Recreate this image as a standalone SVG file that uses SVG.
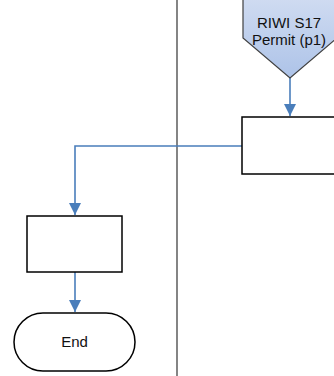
<svg xmlns="http://www.w3.org/2000/svg" width="334" height="376" viewBox="0 0 334 376">
<style>
.shape{fill:#fff;stroke:#000;stroke-width:1.5}
.conn{fill:none;stroke:#4A7EBB;stroke-width:1.6}
.lbl{font-family:"Liberation Sans",Arial,sans-serif;font-size:15px;fill:#111;text-anchor:middle}
</style>
<defs>
<linearGradient id="g" x1="0" y1="0" x2="0" y2="1">
<stop offset="0" stop-color="#CFDBF1"/>
<stop offset="1" stop-color="#ADC3E8"/>
</linearGradient>
<marker id="arr" markerWidth="12" markerHeight="12" refX="12" refY="6" orient="auto" markerUnits="userSpaceOnUse" viewBox="0 0 12 12">
<path d="M0,0 L12,6 L0,12 Z" fill="#4A7EBB"/>
</marker>
</defs>
<line x1="177" y1="0" x2="177" y2="376" stroke="#333" stroke-width="1.2"/>
<g id="connectors">
<path class="conn" d="M290,78 V116" marker-end="url(#arr)"/>
<path class="conn" d="M242,146 H75 V215" marker-end="url(#arr)"/>
<path class="conn" d="M75,272 V312" marker-end="url(#arr)"/>
</g>
<g id="offpage">
<path d="M243,-1 H337 V38 L290,78 L243,38 Z" fill="url(#g)" stroke="#404040" stroke-width="1.2"/>
<text class="lbl" x="289" y="28">RIWI S17</text>
<text class="lbl" x="289" y="45">Permit (p1)</text>
</g>
<g id="process1">
<rect class="shape" x="242" y="117" width="100" height="57"/>
</g>
<g id="process2">
<rect class="shape" x="27" y="216" width="95" height="56"/>
</g>
<g id="end">
<rect class="shape" x="14" y="313" width="121" height="58" rx="29" ry="29"/>
<text class="lbl" x="74.5" y="347">End</text>
</g>
</svg>
